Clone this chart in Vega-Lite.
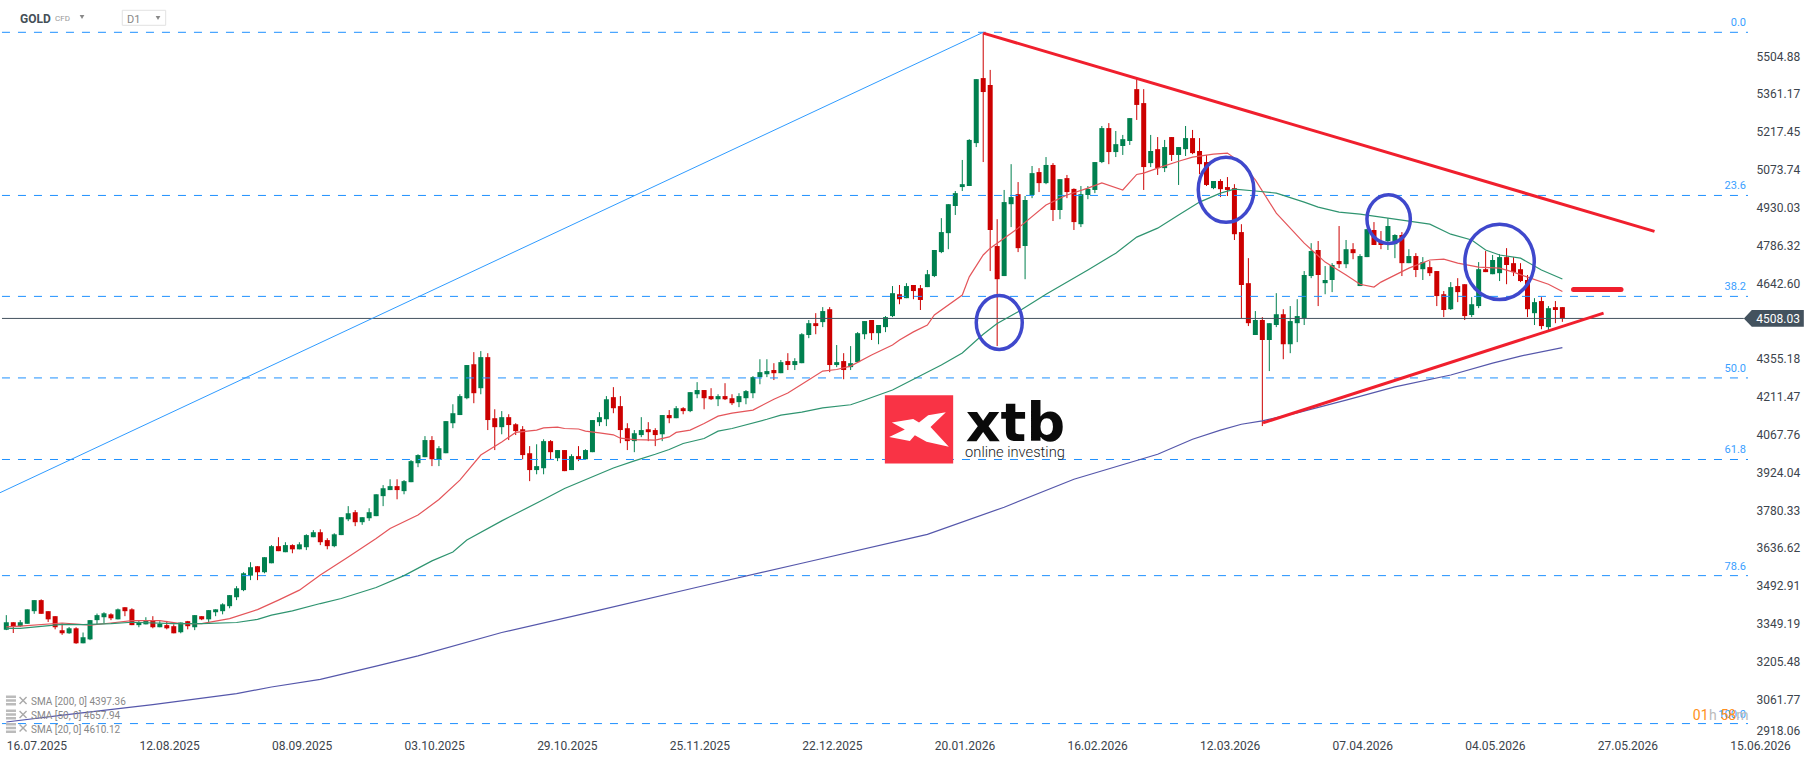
{"$schema":"https://vega.github.io/schema/vega-lite/v6.json","width":1748,"height":737,"autosize":{"type":"none"},"padding":{"left":0,"top":0,"right":68,"bottom":24},"background":"#ffffff","view":{"stroke":null},
"datasets":{"candles":[
{"n":0,"o":3325,"h":3381,"l":3324,"c":3354},{"n":1,"o":3354,"h":3354,"l":3313,"c":3339},{"n":2,"o":3339,"h":3362,"l":3336,"c":3354},{"n":3,"o":3348,"h":3403,"l":3348,"c":3403},{"n":4,"o":3396,"h":3438,"l":3386,"c":3438},{"n":5,"o":3438,"h":3441,"l":3386,"c":3386},{"n":6,"o":3396,"h":3396,"l":3355,"c":3365},{"n":7,"o":3377,"h":3377,"l":3327,"c":3335},{"n":8,"o":3324,"h":3349,"l":3306,"c":3312},{"n":9,"o":3312,"h":3336,"l":3310,"c":3331},
{"n":10,"o":3331,"h":3335,"l":3272,"c":3274},{"n":11,"o":3274,"h":3315,"l":3274,"c":3297},{"n":12,"o":3289,"h":3362,"l":3286,"c":3362},{"n":13,"o":3362,"h":3387,"l":3346,"c":3381},{"n":14,"o":3373,"h":3392,"l":3351,"c":3388},{"n":15,"o":3384,"h":3388,"l":3362,"c":3369},{"n":16,"o":3365,"h":3406,"l":3365,"c":3403},{"n":17,"o":3411,"h":3411,"l":3377,"c":3396},{"n":18,"o":3403,"h":3407,"l":3343,"c":3343},{"n":19,"o":3343,"h":3362,"l":3335,"c":3354},
{"n":20,"o":3346,"h":3373,"l":3346,"c":3362},{"n":21,"o":3362,"h":3377,"l":3331,"c":3335},{"n":22,"o":3335,"h":3358,"l":3335,"c":3348},{"n":23,"o":3343,"h":3359,"l":3327,"c":3331},{"n":24,"o":3339,"h":3346,"l":3312,"c":3312},{"n":25,"o":3316,"h":3353,"l":3312,"c":3353},{"n":26,"o":3358,"h":3359,"l":3327,"c":3339},{"n":27,"o":3335,"h":3381,"l":3324,"c":3381},{"n":28,"o":3377,"h":3377,"l":3362,"c":3365},{"n":29,"o":3365,"h":3400,"l":3354,"c":3400},
{"n":30,"o":3392,"h":3403,"l":3377,"c":3403},{"n":31,"o":3396,"h":3426,"l":3384,"c":3422},{"n":32,"o":3415,"h":3457,"l":3407,"c":3457},{"n":33,"o":3449,"h":3491,"l":3438,"c":3483},{"n":34,"o":3476,"h":3544,"l":3472,"c":3540},{"n":35,"o":3531,"h":3582,"l":3514,"c":3563},{"n":36,"o":3567,"h":3567,"l":3514,"c":3544},{"n":37,"o":3544,"h":3601,"l":3540,"c":3601},{"n":38,"o":3578,"h":3647,"l":3578,"c":3643},{"n":39,"o":3643,"h":3677,"l":3624,"c":3624},
{"n":40,"o":3620,"h":3658,"l":3620,"c":3647},{"n":41,"o":3647,"h":3650,"l":3616,"c":3631},{"n":42,"o":3631,"h":3658,"l":3631,"c":3650},{"n":43,"o":3639,"h":3688,"l":3628,"c":3685},{"n":44,"o":3677,"h":3704,"l":3677,"c":3696},{"n":45,"o":3696,"h":3707,"l":3647,"c":3658},{"n":46,"o":3666,"h":3673,"l":3631,"c":3643},{"n":47,"o":3643,"h":3692,"l":3639,"c":3688},{"n":48,"o":3685,"h":3753,"l":3685,"c":3753},{"n":49,"o":3745,"h":3795,"l":3738,"c":3768},
{"n":50,"o":3772,"h":3780,"l":3719,"c":3734},{"n":51,"o":3734,"h":3753,"l":3724,"c":3753},{"n":52,"o":3749,"h":3787,"l":3739,"c":3772},{"n":53,"o":3757,"h":3840,"l":3757,"c":3840},{"n":54,"o":3833,"h":3875,"l":3795,"c":3863},{"n":55,"o":3856,"h":3897,"l":3856,"c":3871},{"n":56,"o":3871,"h":3897,"l":3821,"c":3856},{"n":57,"o":3852,"h":3894,"l":3840,"c":3890},{"n":58,"o":3886,"h":3970,"l":3886,"c":3966},{"n":59,"o":3958,"h":3992,"l":3943,"c":3989},
{"n":60,"o":3981,"h":4061,"l":3981,"c":4046},{"n":61,"o":4046,"h":4061,"l":3947,"c":3973},{"n":62,"o":3973,"h":4023,"l":3947,"c":4015},{"n":63,"o":3996,"h":4118,"l":3996,"c":4118},{"n":64,"o":4110,"h":4182,"l":4091,"c":4148},{"n":65,"o":4141,"h":4220,"l":4141,"c":4213},{"n":66,"o":4205,"h":4331,"l":4201,"c":4331},{"n":67,"o":4334,"h":4380,"l":4186,"c":4224},{"n":68,"o":4243,"h":4384,"l":4220,"c":4361},{"n":69,"o":4361,"h":4376,"l":4084,"c":4122},
{"n":70,"o":4129,"h":4163,"l":4008,"c":4095},{"n":71,"o":4095,"h":4156,"l":4068,"c":4133},{"n":72,"o":4133,"h":4144,"l":4046,"c":4103},{"n":73,"o":4106,"h":4110,"l":4065,"c":4080},{"n":74,"o":4087,"h":4099,"l":3973,"c":3989},{"n":75,"o":3996,"h":4023,"l":3890,"c":3932},{"n":76,"o":3932,"h":4030,"l":3916,"c":3947},{"n":77,"o":3939,"h":4049,"l":3916,"c":4042},{"n":78,"o":4042,"h":4046,"l":3973,"c":4000},{"n":79,"o":3977,"h":4008,"l":3966,"c":4008},
{"n":80,"o":4008,"h":4008,"l":3928,"c":3928},{"n":81,"o":3932,"h":3992,"l":3932,"c":3985},{"n":82,"o":3985,"h":4023,"l":3966,"c":3973},{"n":83,"o":3973,"h":4011,"l":3973,"c":4008},{"n":84,"o":4000,"h":4122,"l":4000,"c":4122},{"n":85,"o":4114,"h":4152,"l":4099,"c":4133},{"n":86,"o":4125,"h":4213,"l":4099,"c":4201},{"n":87,"o":4209,"h":4247,"l":4148,"c":4167},{"n":88,"o":4175,"h":4213,"l":4034,"c":4084},{"n":89,"o":4091,"h":4110,"l":4008,"c":4042},
{"n":90,"o":4042,"h":4084,"l":4000,"c":4072},{"n":91,"o":4065,"h":4133,"l":4057,"c":4084},{"n":92,"o":4087,"h":4114,"l":4042,"c":4076},{"n":93,"o":4084,"h":4091,"l":4023,"c":4065},{"n":94,"o":4068,"h":4141,"l":4042,"c":4141},{"n":95,"o":4141,"h":4160,"l":4110,"c":4129},{"n":96,"o":4129,"h":4175,"l":4129,"c":4167},{"n":97,"o":4167,"h":4171,"l":4144,"c":4156},{"n":98,"o":4156,"h":4228,"l":4152,"c":4228},{"n":99,"o":4220,"h":4266,"l":4205,"c":4236},
{"n":100,"o":4236,"h":4236,"l":4163,"c":4205},{"n":101,"o":4213,"h":4243,"l":4198,"c":4201},{"n":102,"o":4201,"h":4220,"l":4175,"c":4213},{"n":103,"o":4213,"h":4262,"l":4198,"c":4201},{"n":104,"o":4205,"h":4220,"l":4179,"c":4186},{"n":105,"o":4190,"h":4224,"l":4171,"c":4213},{"n":106,"o":4205,"h":4236,"l":4182,"c":4232},{"n":107,"o":4224,"h":4289,"l":4205,"c":4285},{"n":108,"o":4285,"h":4353,"l":4258,"c":4304},{"n":109,"o":4296,"h":4353,"l":4285,"c":4308},
{"n":110,"o":4312,"h":4338,"l":4274,"c":4300},{"n":111,"o":4300,"h":4350,"l":4300,"c":4342},{"n":112,"o":4346,"h":4376,"l":4312,"c":4331},{"n":113,"o":4331,"h":4357,"l":4312,"c":4346},{"n":114,"o":4338,"h":4452,"l":4338,"c":4448},{"n":115,"o":4445,"h":4502,"l":4433,"c":4490},{"n":116,"o":4490,"h":4528,"l":4448,"c":4479},{"n":117,"o":4494,"h":4551,"l":4475,"c":4536},{"n":118,"o":4543,"h":4551,"l":4304,"c":4331},{"n":119,"o":4331,"h":4407,"l":4323,"c":4342},
{"n":120,"o":4346,"h":4376,"l":4277,"c":4312},{"n":121,"o":4323,"h":4403,"l":4312,"c":4338},{"n":122,"o":4342,"h":4456,"l":4342,"c":4452},{"n":123,"o":4448,"h":4498,"l":4429,"c":4498},{"n":124,"o":4502,"h":4502,"l":4426,"c":4452},{"n":125,"o":4452,"h":4483,"l":4410,"c":4483},{"n":126,"o":4475,"h":4517,"l":4456,"c":4513},{"n":127,"o":4517,"h":4631,"l":4513,"c":4604},{"n":128,"o":4600,"h":4635,"l":4562,"c":4581},{"n":129,"o":4585,"h":4642,"l":4585,"c":4631},
{"n":130,"o":4635,"h":4635,"l":4581,"c":4612},{"n":131,"o":4623,"h":4635,"l":4540,"c":4578},{"n":132,"o":4627,"h":4692,"l":4627,"c":4676},{"n":133,"o":4669,"h":4768,"l":4665,"c":4768},{"n":134,"o":4760,"h":4889,"l":4756,"c":4836},{"n":135,"o":4832,"h":4942,"l":4771,"c":4942},{"n":136,"o":4935,"h":4992,"l":4901,"c":4984},{"n":137,"o":5007,"h":5110,"l":4992,"c":5018},{"n":138,"o":5011,"h":5189,"l":5011,"c":5186},{"n":139,"o":5174,"h":5417,"l":5159,"c":5417},
{"n":140,"o":5421,"h":5594,"l":5102,"c":5368},{"n":141,"o":5395,"h":5452,"l":4688,"c":4844},{"n":142,"o":4783,"h":4885,"l":4403,"c":4657},{"n":143,"o":4669,"h":4996,"l":4669,"c":4950},{"n":144,"o":4942,"h":5094,"l":4855,"c":4969},{"n":145,"o":4980,"h":5026,"l":4760,"c":4775},{"n":146,"o":4783,"h":4973,"l":4657,"c":4958},{"n":147,"o":4977,"h":5087,"l":4965,"c":5060},{"n":148,"o":5064,"h":5079,"l":4988,"c":5022},{"n":149,"o":5022,"h":5121,"l":5018,"c":5091},
{"n":150,"o":5091,"h":5098,"l":4878,"c":4920},{"n":151,"o":4920,"h":5037,"l":4885,"c":5037},{"n":152,"o":5041,"h":5053,"l":4965,"c":4988},{"n":153,"o":5000,"h":5002,"l":4844,"c":4874},{"n":154,"o":4866,"h":5011,"l":4855,"c":4980},{"n":155,"o":4977,"h":5011,"l":4961,"c":5000},{"n":156,"o":4996,"h":5102,"l":4984,"c":5102},{"n":157,"o":5102,"h":5239,"l":5098,"c":5231},{"n":158,"o":5231,"h":5250,"l":5094,"c":5140},{"n":159,"o":5140,"h":5220,"l":5121,"c":5170},
{"n":160,"o":5163,"h":5205,"l":5129,"c":5189},{"n":161,"o":5182,"h":5269,"l":5167,"c":5269},{"n":162,"o":5379,"h":5417,"l":5262,"c":5319},{"n":163,"o":5326,"h":5379,"l":4996,"c":5083},{"n":164,"o":5098,"h":5205,"l":5083,"c":5144},{"n":165,"o":5151,"h":5197,"l":5053,"c":5079},{"n":166,"o":5079,"h":5186,"l":5064,"c":5159},{"n":167,"o":5197,"h":5197,"l":5106,"c":5129},{"n":168,"o":5129,"h":5159,"l":5015,"c":5159},{"n":169,"o":5151,"h":5239,"l":5125,"c":5193},
{"n":170,"o":5193,"h":5224,"l":5132,"c":5136},{"n":171,"o":5144,"h":5193,"l":5056,"c":5094},{"n":172,"o":5102,"h":5129,"l":5011,"c":5015},{"n":173,"o":5003,"h":5030,"l":4999,"c":5030},{"n":174,"o":5030,"h":5037,"l":4969,"c":4999},{"n":175,"o":5007,"h":5045,"l":4973,"c":4996},{"n":176,"o":5003,"h":5018,"l":4806,"c":4828},{"n":177,"o":4836,"h":4866,"l":4509,"c":4635},{"n":178,"o":4642,"h":4737,"l":4479,"c":4490},{"n":179,"o":4445,"h":4536,"l":4445,"c":4502},
{"n":180,"o":4502,"h":4513,"l":4099,"c":4426},{"n":181,"o":4426,"h":4490,"l":4308,"c":4490},{"n":182,"o":4483,"h":4604,"l":4475,"c":4524},{"n":183,"o":4524,"h":4543,"l":4353,"c":4410},{"n":184,"o":4410,"h":4555,"l":4376,"c":4498},{"n":185,"o":4490,"h":4581,"l":4418,"c":4517},{"n":186,"o":4509,"h":4688,"l":4483,"c":4673},{"n":187,"o":4669,"h":4794,"l":4661,"c":4764},{"n":188,"o":4768,"h":4802,"l":4555,"c":4673},{"n":189,"o":4642,"h":4707,"l":4600,"c":4654},
{"n":190,"o":4654,"h":4718,"l":4608,"c":4711},{"n":191,"o":4726,"h":4859,"l":4699,"c":4714},{"n":192,"o":4714,"h":4806,"l":4699,"c":4771},{"n":193,"o":4771,"h":4794,"l":4733,"c":4756},{"n":194,"o":4631,"h":4752,"l":4631,"c":4745},{"n":195,"o":4741,"h":4847,"l":4741,"c":4847},{"n":196,"o":4844,"h":4874,"l":4787,"c":4787},{"n":197,"o":4802,"h":4840,"l":4771,"c":4787},{"n":198,"o":4802,"h":4889,"l":4768,"c":4859},{"n":199,"o":4790,"h":4828,"l":4737,"c":4825},
{"n":200,"o":4825,"h":4836,"l":4669,"c":4718},{"n":201,"o":4718,"h":4771,"l":4718,"c":4745},{"n":202,"o":4745,"h":4756,"l":4665,"c":4692},{"n":203,"o":4695,"h":4741,"l":4654,"c":4722},{"n":204,"o":4703,"h":4726,"l":4669,"c":4680},{"n":205,"o":4688,"h":4688,"l":4555,"c":4593},{"n":206,"o":4600,"h":4612,"l":4513,"c":4540},{"n":207,"o":4543,"h":4646,"l":4540,"c":4627},{"n":208,"o":4631,"h":4661,"l":4570,"c":4608},{"n":209,"o":4638,"h":4638,"l":4502,"c":4517},
{"n":210,"o":4521,"h":4589,"l":4513,"c":4562},{"n":211,"o":4555,"h":4722,"l":4547,"c":4695},{"n":212,"o":4695,"h":4764,"l":4684,"c":4684},{"n":213,"o":4676,"h":4749,"l":4676,"c":4730},{"n":214,"o":4680,"h":4752,"l":4650,"c":4741},{"n":215,"o":4741,"h":4775,"l":4638,"c":4711},{"n":216,"o":4718,"h":4741,"l":4669,"c":4684},{"n":217,"o":4695,"h":4718,"l":4646,"c":4650},{"n":218,"o":4654,"h":4673,"l":4513,"c":4543},{"n":219,"o":4528,"h":4585,"l":4483,"c":4570},
{"n":220,"o":4574,"h":4589,"l":4467,"c":4479},{"n":221,"o":4475,"h":4555,"l":4464,"c":4547},{"n":222,"o":4551,"h":4574,"l":4490,"c":4540},{"n":223,"o":4551,"h":4551,"l":4495,"c":4509}],
"sma":[
{"s":"20","n":0,"p":3336},{"s":"20","n":2,"p":3339},{"s":"20","n":8,"p":3351},{"s":"20","n":12,"p":3343},{"s":"20","n":15,"p":3351},{"s":"20","n":18,"p":3360},{"s":"20","n":22,"p":3360},{"s":"20","n":25,"p":3349},{"s":"20","n":28,"p":3349},{"s":"20","n":32,"p":3368},{"s":"20","n":36,"p":3402},{"s":"20","n":39,"p":3438},{"s":"20","n":42,"p":3476},{"s":"20","n":45,"p":3533},{"s":"20","n":49,"p":3602},{"s":"20","n":53,"p":3672},{"s":"20","n":55,"p":3710},{"s":"20","n":59,"p":3761},{"s":"20","n":62,"p":3820},{"s":"20","n":65,"p":3894},{"s":"20","n":68,"p":3989},{"s":"20","n":71,"p":4039},{"s":"20","n":73,"p":4075},{"s":"20","n":76,"p":4084},{"s":"20","n":77,"p":4092},{"s":"20","n":79,"p":4095},{"s":"20","n":80,"p":4090},{"s":"20","n":82,"p":4088},{"s":"20","n":83,"p":4080},{"s":"20","n":85,"p":4073},{"s":"20","n":87,"p":4066},{"s":"20","n":88,"p":4053},{"s":"20","n":90,"p":4048},{"s":"20","n":93,"p":4046},{"s":"20","n":95,"p":4058},{"s":"20","n":96,"p":4075},{"s":"20","n":98,"p":4084},{"s":"20","n":100,"p":4109},{"s":"20","n":102,"p":4137},{"s":"20","n":104,"p":4148},{"s":"20","n":107,"p":4160},{"s":"20","n":110,"p":4201},{"s":"20","n":112,"p":4225},{"s":"20","n":114,"p":4258},{"s":"20","n":117,"p":4308},{"s":"20","n":119,"p":4314},{"s":"20","n":121,"p":4327},{"s":"20","n":124,"p":4369},{"s":"20","n":127,"p":4407},{"s":"20","n":128,"p":4426},{"s":"20","n":130,"p":4457},{"s":"20","n":132,"p":4483},{"s":"20","n":133,"p":4521},{"s":"20","n":137,"p":4597},{"s":"20","n":138,"p":4666},{"s":"20","n":140,"p":4749},{"s":"20","n":141,"p":4775},{"s":"20","n":144,"p":4832},{"s":"20","n":145,"p":4851},{"s":"20","n":149,"p":4939},{"s":"20","n":152,"p":4977},{"s":"20","n":155,"p":5003},{"s":"20","n":157,"p":5023},{"s":"20","n":160,"p":4996},{"s":"20","n":162,"p":5055},{"s":"20","n":163,"p":5060},{"s":"20","n":165,"p":5079},{"s":"20","n":168,"p":5105},{"s":"20","n":170,"p":5121},{"s":"20","n":173,"p":5132},{"s":"20","n":175,"p":5136},{"s":"20","n":177,"p":5098},{"s":"20","n":179,"p":5034},{"s":"20","n":182,"p":4908},{"s":"20","n":186,"p":4794},{"s":"20","n":189,"p":4722},{"s":"20","n":192,"p":4673},{"s":"20","n":194,"p":4638},{"s":"20","n":196,"p":4627},{"s":"20","n":197,"p":4646},{"s":"20","n":201,"p":4699},{"s":"20","n":204,"p":4730},{"s":"20","n":206,"p":4733},{"s":"20","n":208,"p":4718},{"s":"20","n":211,"p":4703},{"s":"20","n":214,"p":4699},{"s":"20","n":216,"p":4684},{"s":"20","n":218,"p":4665},{"s":"20","n":221,"p":4638},{"s":"20","n":223,"p":4610},
{"s":"50","n":0,"p":3331},{"s":"50","n":2,"p":3331},{"s":"50","n":8,"p":3346},{"s":"50","n":11,"p":3345},{"s":"50","n":15,"p":3349},{"s":"50","n":18,"p":3354},{"s":"50","n":24,"p":3349},{"s":"50","n":28,"p":3349},{"s":"50","n":33,"p":3353},{"s":"50","n":36,"p":3365},{"s":"50","n":38,"p":3381},{"s":"50","n":41,"p":3397},{"s":"50","n":45,"p":3425},{"s":"50","n":48,"p":3444},{"s":"50","n":53,"p":3486},{"s":"50","n":57,"p":3531},{"s":"50","n":61,"p":3587},{"s":"50","n":64,"p":3621},{"s":"50","n":66,"p":3666},{"s":"50","n":71,"p":3739},{"s":"50","n":77,"p":3820},{"s":"50","n":80,"p":3862},{"s":"50","n":87,"p":3940},{"s":"50","n":90,"p":3967},{"s":"50","n":93,"p":3992},{"s":"50","n":95,"p":4010},{"s":"50","n":97,"p":4033},{"s":"50","n":100,"p":4052},{"s":"50","n":102,"p":4080},{"s":"50","n":104,"p":4090},{"s":"50","n":109,"p":4125},{"s":"50","n":111,"p":4141},{"s":"50","n":114,"p":4152},{"s":"50","n":117,"p":4168},{"s":"50","n":121,"p":4180},{"s":"50","n":123,"p":4198},{"s":"50","n":127,"p":4236},{"s":"50","n":134,"p":4331},{"s":"50","n":137,"p":4377},{"s":"50","n":140,"p":4448},{"s":"50","n":142,"p":4489},{"s":"50","n":145,"p":4533},{"s":"50","n":149,"p":4600},{"s":"50","n":155,"p":4692},{"s":"50","n":159,"p":4756},{"s":"50","n":162,"p":4817},{"s":"50","n":165,"p":4851},{"s":"50","n":168,"p":4901},{"s":"50","n":171,"p":4950},{"s":"50","n":174,"p":4984},{"s":"50","n":176,"p":4999},{"s":"50","n":179,"p":4992},{"s":"50","n":182,"p":4984},{"s":"50","n":186,"p":4950},{"s":"50","n":188,"p":4931},{"s":"50","n":191,"p":4912},{"s":"50","n":194,"p":4904},{"s":"50","n":197,"p":4893},{"s":"50","n":201,"p":4878},{"s":"50","n":204,"p":4866},{"s":"50","n":207,"p":4828},{"s":"50","n":210,"p":4806},{"s":"50","n":212,"p":4768},{"s":"50","n":214,"p":4749},{"s":"50","n":217,"p":4737},{"s":"50","n":220,"p":4692},{"s":"50","n":223,"p":4658},
{"s":"200","n":0,"p":2975},{"s":"200","n":9,"p":3004},{"s":"200","n":21,"p":3041},{"s":"200","n":33,"p":3083},{"s":"200","n":38,"p":3108},{"s":"200","n":45,"p":3137},{"s":"200","n":53,"p":3187},{"s":"200","n":59,"p":3226},{"s":"200","n":71,"p":3315},{"s":"200","n":85,"p":3400},{"s":"200","n":99,"p":3487},{"s":"200","n":114,"p":3578},{"s":"200","n":132,"p":3688},{"s":"200","n":143,"p":3791},{"s":"200","n":153,"p":3897},{"s":"200","n":165,"p":3992},{"s":"200","n":170,"p":4049},{"s":"200","n":174,"p":4084},{"s":"200","n":177,"p":4106},{"s":"200","n":180,"p":4119},{"s":"200","n":185,"p":4149},{"s":"200","n":192,"p":4198},{"s":"200","n":199,"p":4248},{"s":"200","n":207,"p":4293},{"s":"200","n":213,"p":4338},{"s":"200","n":217,"p":4365},{"s":"200","n":223,"p":4397}],
"fib":[{"level":"0.0","p":5594.9,"from":-0.62,"to":249.6},{"level":"23.6","p":4975.2,"from":-0.62,"to":249.6},{"level":"38.2","p":4591.8,"from":-0.62,"to":249.6},{"level":"50.0","p":4282,"from":-0.62,"to":249.6},{"level":"61.8","p":3972.2,"from":-0.62,"to":249.6},{"level":"78.6","p":3531,"from":-0.62,"to":249.6},{"level":"100.0","p":2969,"from":-0.62,"to":249.6}]},
"encoding":{
"x":{"field":"n","type":"quantitative","scale":{"domain":[-0.903,249.6],"nice":false,"zero":false,"padding":0},"axis":{"orient":"bottom","title":null,"values":[0,19,38,57,76,95,114,133,152,171,190,209,228,247],"labelExpr":"['16.07.2025','12.08.2025','08.09.2025','03.10.2025','29.10.2025','25.11.2025','22.12.2025','20.01.2026','16.02.2026','12.03.2026','07.04.2026','04.05.2026','27.05.2026','15.06.2026'][datum.value/19]","labelAlign":"left","labelBaseline":"middle","labelPadding":8,"labelFont":"Roboto","labelFontSize":12,"labelColor":"#3c444c","labelOverlap":false,"labelFlush":false,"labelBound":false,"domain":false,"ticks":false,"grid":false}},
"y":{"field":"p","type":"quantitative","scale":{"domain":[2918.06,5717.6],"nice":false,"zero":false},"axis":{"orient":"right","title":null,"values":[5504.88,5361.17,5217.45,5073.74,4930.03,4786.32,4642.6,4355.18,4211.47,4067.76,3924.04,3780.33,3636.62,3492.91,3349.19,3205.48,3061.77,2918.06],"format":".2f","labelPadding":8,"labelFont":"Roboto","labelFontSize":12,"labelColor":"#3c444c","labelOverlap":false,"labelFlush":true,"labelBound":false,"domain":false,"ticks":false,"grid":false}}},
"layer":[
{"data":{"name":"candles"},"mark":{"type":"rule","strokeWidth":1},"encoding":{"y":{"field":"h","type":"quantitative"},"y2":{"field":"l"},"color":{"condition":{"test":"datum.c>=datum.o","value":"#00804f"},"value":"#cc0000"}}},
{"data":{"name":"candles"},"mark":{"type":"bar","size":5,"orient":"vertical"},"encoding":{"y":{"field":"o","type":"quantitative"},"y2":{"field":"c"},"color":{"condition":{"test":"datum.c>=datum.o","value":"#00804f"},"value":"#cc0000"}}},
{"data":{"name":"fib"},"mark":{"type":"rule","stroke":"#1e90ff","strokeWidth":1,"strokeDash":[8,8]},"encoding":{"x":{"field":"from","type":"quantitative"},"x2":{"field":"to"}}},
{"data":{"name":"fib"},"mark":{"type":"text","font":"Roboto","fontSize":11,"align":"right","baseline":"middle","dx":-2,"dy":-9,"color":"#3aa0ff"},"encoding":{"x":{"field":"to","type":"quantitative"},"text":{"field":"level"}}},
{"data":{"values":[{"p":4508.03,"from":-0.62,"to":249.0}]},"mark":{"type":"rule","stroke":"#43525e","strokeWidth":1},"encoding":{"x":{"field":"from","type":"quantitative"},"x2":{"field":"to"}}},
{"data":{"name":"sma"},"mark":{"type":"line","strokeWidth":1.2},"encoding":{"color":{"field":"s","type":"nominal","scale":{"domain":["20","50","200"],"range":["#e4555a","#2f9470","#5557ab"]},"legend":null}}},
{"data":{"values":[{"n":-0.9,"p":3846},{"n":140,"p":5594.9}]},"mark":{"type":"line","stroke":"#2f9bff","strokeWidth":1},"encoding":{}},
{"data":{"values":[{"id":"upper","n":140,"p":5592},{"id":"upper","n":236.2,"p":4838.7},{"id":"lower","n":180.1,"p":4111.3},{"id":"lower","n":228.9,"p":4528.2}]},"mark":{"type":"line","stroke":"#f01f2d","strokeWidth":3},"encoding":{"detail":{"field":"id"}}},
{"data":{"values":[{"n":224.6,"p":4618.3},{"n":231.4,"p":4618.3}]},"mark":{"type":"line","stroke":"#f01f2d","strokeWidth":5,"strokeCap":"round"},"encoding":{}},
{"data":{"values":[{"n":142.3,"p":4492.9}]},"mark":{"type":"point","shape":"M-1,0A1,1.174,0,1,1,1,0A1,1.174,0,1,1,-1,0Z","size":2116,"filled":false,"stroke":"#3f48cc","strokeWidth":3.5,"opacity":1},"encoding":{}},
{"data":{"values":[{"n":174.8,"p":4996.4}]},"mark":{"type":"point","shape":"M-1,0A1,1.169,0,1,1,1,0A1,1.169,0,1,1,-1,0Z","size":3091,"filled":false,"stroke":"#3f48cc","strokeWidth":3.5,"opacity":1},"encoding":{}},
{"data":{"values":[{"n":198.1,"p":4885.4}]},"mark":{"type":"point","shape":"M-1,0A1,1.12,0,1,1,1,0A1,1.12,0,1,1,-1,0Z","size":1884,"filled":false,"stroke":"#3f48cc","strokeWidth":3.5,"opacity":1},"encoding":{}},
{"data":{"values":[{"n":214,"p":4723.1}]},"mark":{"type":"point","shape":"M-1,0A1,1.086,0,1,1,1,0A1,1.086,0,1,1,-1,0Z","size":4816,"filled":false,"stroke":"#3f48cc","strokeWidth":3.5,"opacity":1},"encoding":{}},
{"data":{"values":[{"n":130.8,"p":4086.6}]},"mark":{"type":"point","shape":"square","size":4665,"filled":true,"fill":"#f93345","stroke":null,"opacity":1},"encoding":{}},
{"data":{"values":[{"n":130.8,"p":4086.6}]},"mark":{"type":"point","shape":"M-.795,-.2L-.17,-.307L0,-.2L.268,-.415L.785,-.502L.337,-.073L.873,.512L.22,.366L-.122,.171L-.268,.337L-.873,.22L-.415,.005Z","size":4665,"filled":true,"fill":"#ffffff","stroke":null,"opacity":1},"encoding":{}},
{"data":{"values":[{"n":137.5,"p":4043,"label":"xtb"}]},"mark":{"type":"text","font":"DejaVu Sans","fontWeight":"bold","fontSize":54,"align":"left","baseline":"alphabetic","color":"#0a0a0a"},"encoding":{"text":{"field":"label"}}},
{"data":{"values":[{"n":137.4,"p":3983,"label":"online investing"}]},"mark":{"type":"text","font":"Roboto","fontWeight":300,"fontSize":14.7,"align":"left","baseline":"alphabetic","color":"#222222"},"encoding":{"text":{"field":"label"}}},
{"data":{"values":[{"n":253.3,"p":4508.03}]},"mark":{"type":"point","shape":"M-1,0L-.733,-.278L1,-.278L1,.278L-.733,.278Z","size":3600,"filled":true,"fill":"#43525e","stroke":null,"opacity":1},"encoding":{}},
{"data":{"values":[{"n":250.8,"p":4508.03,"label":"4508.03"}]},"mark":{"type":"text","font":"Roboto","fontSize":12,"align":"left","baseline":"middle","dy":1,"color":"#ffffff"},"encoding":{"text":{"field":"label"}}},
{"data":{"values":[{"n":1.96,"p":5646.5,"label":"GOLD"}]},"mark":{"type":"text","font":"Roboto","fontWeight":"bold","fontSize":12,"align":"left","baseline":"middle","color":"#454f57"},"encoding":{"text":{"field":"label"}}},
{"data":{"values":[{"n":6.98,"p":5645.4,"label":"CFD"}]},"mark":{"type":"text","font":"Roboto","fontSize":8,"align":"left","baseline":"middle","color":"#999999"},"encoding":{"text":{"field":"label"}}},
{"data":{"values":[{"n":17.3,"p":5643.5,"label":"D1"}]},"mark":{"type":"text","font":"Roboto","fontSize":11,"align":"left","baseline":"middle","color":"#888888"},"encoding":{"text":{"field":"label"}}},
{"data":{"values":[{"n":10.85,"p":5653},{"n":21.74,"p":5649}]},"mark":{"type":"point","shape":"triangle-down","size":22,"filled":true,"fill":"#888888","stroke":null,"opacity":1},"encoding":{}},
{"data":{"values":[{"n":19.73,"p":5650}]},"mark":{"type":"point","shape":"M-1,-.346H1V.346H-1Z","size":1884,"filled":false,"stroke":"#e2e2e2","strokeWidth":1,"opacity":1},"encoding":{}},
{"data":{"values":[{"n":3.54,"p":3051,"label":"SMA [200, 0] 4397.36"},{"n":3.54,"p":2998,"label":"SMA [50, 0] 4657.94"},{"n":3.54,"p":2946,"label":"SMA [20, 0] 4610.12"}]},"mark":{"type":"text","font":"Roboto","fontSize":10,"align":"left","baseline":"middle","color":"#888888"},"encoding":{"text":{"field":"label"}}},
{"data":{"values":[{"n":0.67,"p":3056.5},{"n":0.67,"p":3004},{"n":0.67,"p":2952}]},"mark":{"type":"point","shape":"M-1,-1H1V-.5H-1ZM-1,-.25H1V.25H-1ZM-1,.5H1V1H-1Z","size":100,"filled":true,"fill":"#bbbbbb","stroke":null,"opacity":1},"encoding":{}},
{"data":{"values":[{"n":2.4,"p":3056.5},{"n":2.4,"p":3004},{"n":2.4,"p":2952}]},"mark":{"type":"point","shape":"M-1,-.75L-.75,-1L0,-.25L.75,-1L1,-.75L.25,0L1,.75L.75,1L0,.25L-.75,1L-1,.75L-.25,0Z","size":64,"filled":true,"fill":"#aaaaaa","stroke":null,"opacity":1},"encoding":{}},
{"data":{"values":[{"n":241.7,"p":2996.8,"label":"01"},{"n":245.65,"p":2996.8,"label":"58"}]},"mark":{"type":"text","font":"Roboto","fontSize":14,"align":"left","baseline":"middle","color":"#ff9020"},"encoding":{"text":{"field":"label"}}},
{"data":{"values":[{"n":244,"p":2996.8,"label":"h"},{"n":247.9,"p":2996.8,"label":"m"}]},"mark":{"type":"text","font":"Roboto","fontSize":14,"align":"left","baseline":"middle","color":"#bbbbbb"},"encoding":{"text":{"field":"label"}}}
]}
